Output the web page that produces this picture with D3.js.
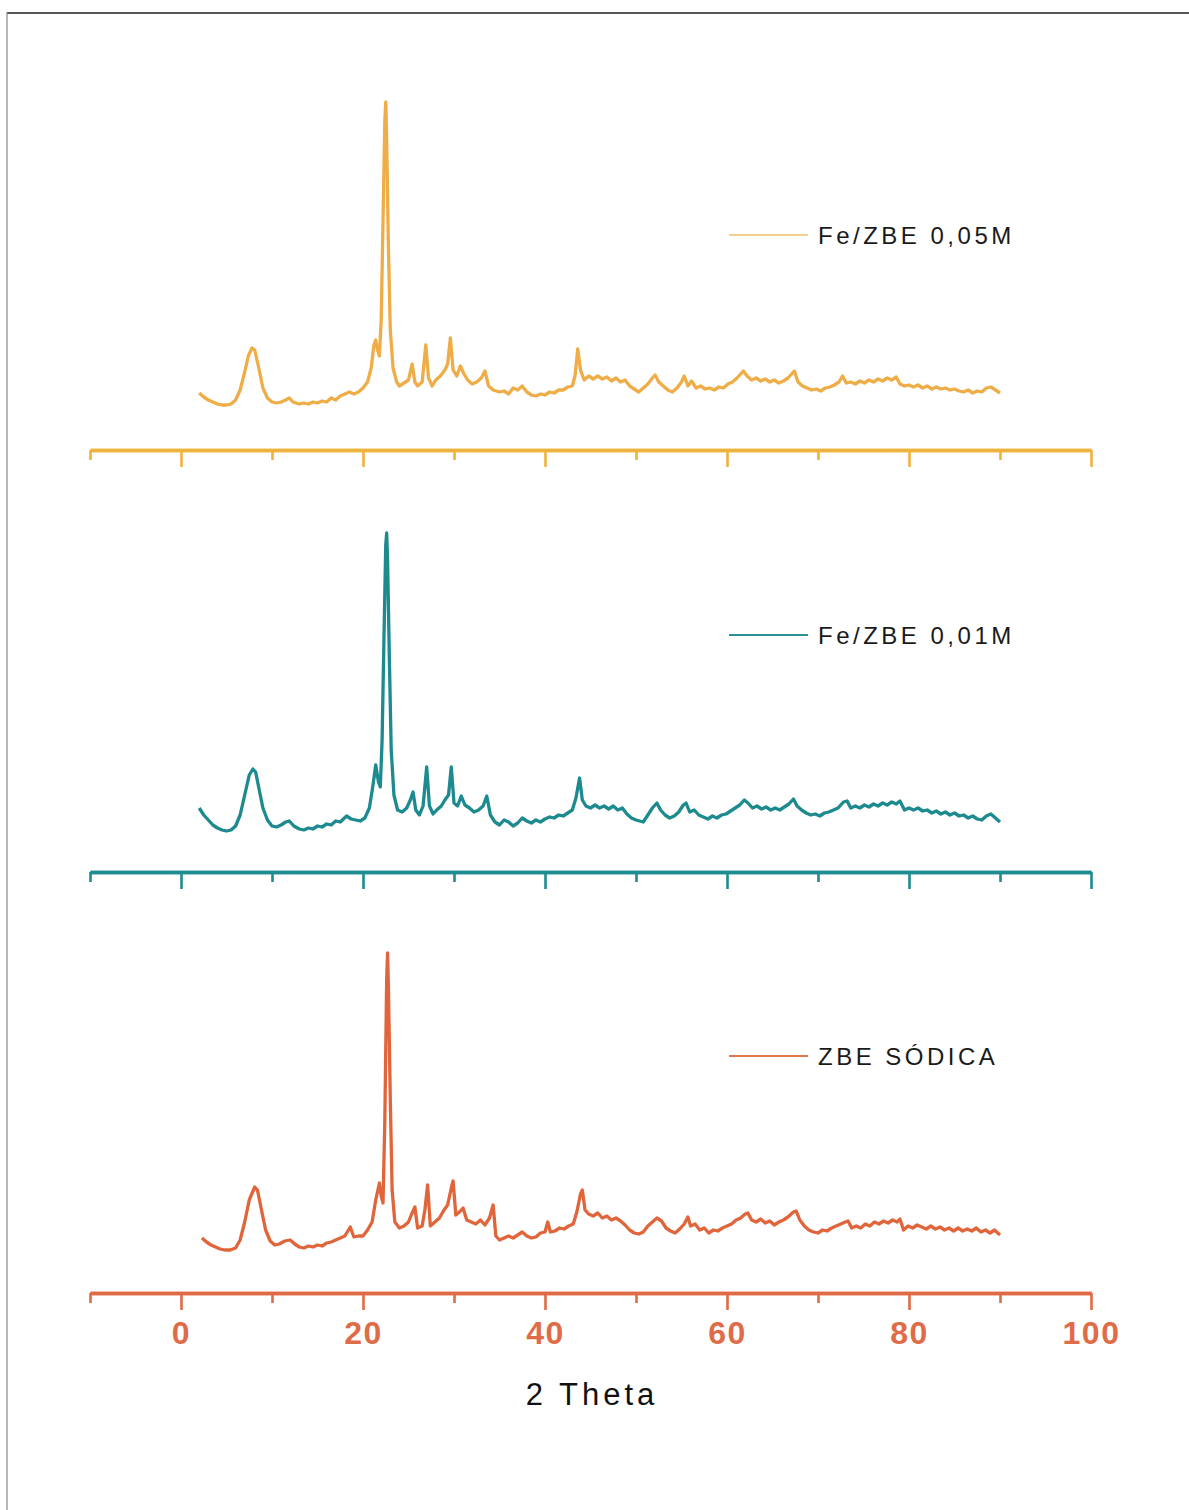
<!DOCTYPE html>
<html>
<head>
<meta charset="utf-8">
<script src="https://cdn.jsdelivr.net/npm/d3@7"></script>
<style>
  html, body { margin: 0; padding: 0; background: #ffffff; }
  svg { display: block; }
</style>
</head>
<body>
<svg id="chart" width="1189" height="1510"></svg>
<script>
// X-ray diffraction patterns, 2θ (degrees) vs intensity (a.u.)
const seriesNames = ["Fe/ZBE 0,05M", "Fe/ZBE 0,01M", "ZBE SÓDICA"];

const majorTicks = [0, 20, 40, 60, 80, 100];
const minorTicks = [-10, 10, 30, 50, 70, 90];

// Fe/ZBE 0,05M : [2θ, intensity]
const fe005 = [
  [2.0,17],[2.5,13],[3.0,10],[3.5,8],[4.0,6],[4.5,5],[5.0,5],[5.5,6],[6.0,10],[6.5,20],
  [7.0,38],[7.4,54],[7.8,62],[8.1,60],[8.5,44],[9.0,22],[9.5,12],[10.0,8],[10.5,7],[11.0,8],
  [11.5,10],[11.9,12],[12.3,8],[13.0,6],[13.5,7],[14.0,6],[14.5,8],[15.0,7],[15.5,9],[16.0,8],
  [16.5,12],[17.0,10],[17.5,14],[18.0,16],[18.5,18],[19.0,16],[19.5,18],[20.0,22],[20.5,28],[20.9,42],
  [21.2,65],[21.4,70],[21.6,60],[21.8,54],[22.0,90],[22.2,190],[22.4,290],[22.5,308],[22.6,270],[22.8,160],
  [23.0,80],[23.3,42],[23.7,28],[24.0,24],[24.5,27],[25.0,30],[25.4,46],[25.7,28],[26.0,24],[26.5,28],
  [26.9,65],[27.2,32],[27.6,24],[28.0,30],[28.5,34],[29.0,40],[29.3,46],[29.6,72],[29.9,40],[30.3,34],
  [30.7,44],[31.1,36],[31.5,30],[32.0,26],[32.5,28],[33.0,32],[33.4,39],[33.8,24],[34.3,20],[35.0,18],
  [35.5,19],[36.0,16],[36.5,22],[37.0,20],[37.5,24],[38.0,18],[38.5,15],[39.0,14],[39.5,16],[40.0,15],
  [40.5,18],[41.0,17],[41.5,20],[42.0,20],[42.5,23],[43.0,24],[43.3,34],[43.6,61],[43.9,40],[44.3,30],
  [44.8,34],[45.3,31],[45.8,34],[46.3,31],[46.8,33],[47.3,29],[47.8,32],[48.3,28],[48.8,30],[49.3,24],
  [49.8,21],[50.3,18],[50.8,22],[51.3,26],[51.8,32],[52.1,35],[52.5,28],[53.0,24],[53.5,20],[54.0,18],
  [54.5,22],[55.0,28],[55.3,34],[55.7,24],[56.1,29],[56.6,22],[57.1,24],[57.6,21],[58.1,22],[58.6,20],
  [59.1,23],[59.6,22],[60.1,26],[60.6,28],[61.1,32],[61.5,36],[61.8,39],[62.2,34],[62.7,30],[63.2,32],
  [63.7,29],[64.2,31],[64.7,28],[65.2,30],[65.7,27],[66.2,29],[66.7,32],[67.1,36],[67.4,39],[67.8,28],
  [68.3,24],[68.8,22],[69.3,20],[69.8,21],[70.3,19],[70.8,22],[71.3,23],[71.8,25],[72.3,28],[72.7,34],
  [73.1,27],[73.6,28],[74.1,26],[74.6,29],[75.1,27],[75.6,30],[76.1,28],[76.6,31],[77.1,29],[77.6,32],
  [78.1,30],[78.6,33],[79.0,26],[79.5,24],[80.0,25],[80.5,23],[81.0,25],[81.5,22],[82.0,24],[82.5,21],
  [83.0,23],[83.5,21],[84.0,22],[84.5,20],[85.0,21],[85.5,19],[86.0,18],[86.5,20],[87.0,17],[87.5,19],
  [88.0,18],[88.5,22],[89.0,23],[89.5,20],[90.0,17]
];

// Fe/ZBE 0,01M : [2θ, intensity]
const fe001 = [
  [2.0,24],[2.5,17],[3.0,12],[3.5,7],[4.0,4],[4.5,2],[5.0,1],[5.5,2],[6.0,6],[6.5,17],
  [7.0,37],[7.5,57],[7.9,63],[8.2,60],[8.6,42],[9.0,24],[9.5,12],[10.0,6],[10.5,5],[11.0,7],
  [11.5,10],[11.9,11],[12.4,6],[13.0,3],[13.5,2],[14.0,4],[14.5,3],[15.0,6],[15.5,5],[16.0,8],
  [16.5,7],[17.0,11],[17.5,10],[18.2,16],[18.7,13],[19.2,12],[19.7,11],[20.2,14],[20.7,24],[21.1,47],
  [21.4,67],[21.7,50],[21.9,45],[22.1,92],[22.3,192],[22.5,287],[22.6,299],[22.7,272],[22.9,172],[23.1,82],
  [23.4,37],[23.8,22],[24.3,20],[24.8,24],[25.2,32],[25.5,40],[25.8,22],[26.2,17],[26.6,26],[27.0,65],
  [27.3,26],[27.7,18],[28.1,22],[28.6,26],[29.0,32],[29.4,37],[29.7,65],[30.0,29],[30.4,26],[30.8,36],
  [31.2,27],[31.7,24],[32.2,20],[32.7,22],[33.2,26],[33.6,36],[34.0,17],[34.5,10],[35.0,7],[35.5,12],
  [36.0,10],[36.5,6],[37.0,9],[37.5,14],[38.0,11],[38.5,9],[39.0,12],[39.5,10],[40.0,13],[40.5,15],
  [41.0,14],[41.5,17],[42.0,16],[42.5,19],[43.0,22],[43.4,34],[43.8,54],[44.1,32],[44.5,26],[45.0,24],
  [45.5,27],[46.0,24],[46.5,26],[47.0,23],[47.5,26],[48.0,22],[48.5,24],[49.0,18],[49.5,14],[50.0,12],
  [50.8,10],[51.3,17],[51.8,24],[52.3,29],[52.7,22],[53.2,17],[53.7,14],[54.2,16],[54.7,20],[55.2,27],
  [55.5,29],[55.9,20],[56.4,22],[56.9,17],[57.4,15],[57.9,13],[58.4,16],[58.9,14],[59.4,17],[59.9,18],
  [60.4,21],[60.9,24],[61.4,27],[61.9,32],[62.3,29],[62.8,24],[63.3,26],[63.8,23],[64.3,25],[64.8,22],
  [65.3,24],[65.8,22],[66.3,25],[66.8,28],[67.3,33],[67.7,26],[68.2,22],[68.7,19],[69.2,17],[69.7,18],
  [70.2,16],[70.7,19],[71.2,20],[71.7,22],[72.2,24],[72.8,30],[73.2,31],[73.6,24],[74.1,26],[74.6,24],
  [75.1,27],[75.6,25],[76.1,28],[76.6,26],[77.1,29],[77.6,27],[78.1,30],[78.6,28],[79.0,31],[79.5,22],
  [80.0,24],[80.5,22],[81.0,24],[81.5,21],[82.0,22],[82.5,19],[83.0,21],[83.5,18],[84.0,20],[84.5,17],
  [85.0,19],[85.5,16],[86.0,17],[86.5,14],[87.0,16],[87.5,13],[88.0,12],[88.5,16],[89.0,18],[89.5,14],
  [90.0,10]
];

// ZBE SÓDICA : [2θ, intensity]
const zbeNa = [
  [2.3,15],[2.8,11],[3.3,8],[3.8,6],[4.3,4],[4.8,3],[5.4,3],[6.0,5],[6.5,13],[7.0,31],
  [7.5,53],[8.1,66],[8.4,63],[8.8,45],[9.3,23],[9.8,12],[10.3,8],[10.8,9],[11.4,12],[12.0,13],
  [12.5,9],[13.0,6],[13.5,5],[14.0,7],[14.5,6],[15.0,8],[15.5,7],[16.0,10],[16.5,11],[17.0,13],
  [17.5,15],[18.0,17],[18.6,26],[19.0,16],[19.5,17],[20.0,17],[20.5,23],[21.0,31],[21.4,53],[21.8,70],
  [22.0,57],[22.2,50],[22.4,133],[22.6,273],[22.7,300],[22.8,263],[23.0,153],[23.2,63],[23.5,31],[24.0,25],
  [24.5,27],[25.0,31],[25.3,38],[25.7,46],[26.0,25],[26.5,27],[26.8,43],[27.1,68],[27.4,27],[27.9,31],
  [28.4,35],[28.9,43],[29.3,48],[29.7,65],[29.9,72],[30.2,38],[30.6,41],[31.0,45],[31.4,33],[31.9,31],
  [32.4,29],[32.9,33],[33.4,28],[33.9,35],[34.3,48],[34.6,17],[35.0,13],[35.5,15],[36.0,17],[36.5,15],
  [37.0,18],[37.5,21],[38.0,17],[38.5,15],[39.0,16],[39.5,20],[40.0,21],[40.3,31],[40.6,21],[41.1,22],
  [41.6,25],[42.1,24],[42.6,27],[43.1,29],[43.5,41],[43.9,59],[44.1,63],[44.4,43],[44.8,39],[45.3,37],
  [45.8,40],[46.3,35],[46.8,37],[47.3,33],[47.8,35],[48.3,32],[48.8,28],[49.3,23],[49.8,20],[50.3,19],
  [50.8,21],[51.3,27],[51.8,31],[52.3,35],[52.8,32],[53.3,25],[53.8,22],[54.3,20],[54.8,24],[55.3,29],
  [55.7,36],[56.0,27],[56.5,29],[57.0,23],[57.5,25],[58.0,20],[58.5,23],[59.0,22],[59.5,25],[60.0,27],
  [60.5,29],[61.0,33],[61.5,35],[62.0,39],[62.3,40],[62.7,33],[63.2,31],[63.7,34],[64.2,30],[64.7,32],
  [65.2,28],[65.7,31],[66.2,33],[66.7,36],[67.3,41],[67.6,42],[68.0,33],[68.5,27],[69.0,23],[69.5,21],
  [70.0,20],[70.5,23],[71.0,22],[71.5,25],[72.0,27],[72.5,29],[73.0,31],[73.3,32],[73.7,25],[74.2,27],
  [74.7,25],[75.2,29],[75.7,27],[76.2,31],[76.7,29],[77.2,32],[77.7,30],[78.2,33],[78.7,31],[79.0,34],
  [79.4,23],[79.9,27],[80.4,25],[80.9,28],[81.4,26],[81.9,24],[82.4,27],[82.9,24],[83.4,26],[83.9,23],
  [84.4,25],[84.9,22],[85.4,25],[85.9,22],[86.4,24],[86.9,22],[87.4,25],[87.9,21],[88.4,23],[88.9,20],
  [89.4,23],[90.0,18]
];

const seriesData = [fe005, fe001, zbeNa];
const lineColors = ["#efad47", "#1c8a8f", "#e0653b"];
const axisColors = ["#f0b23e", "#1e8c90", "#df6a44"];
const legendLineColors = ["#f1cf8e", "#2a9196", "#e5774f"];

const svg = d3.select("#chart");

// page frame
svg.append("line").attr("x1", 7).attr("y1", 13).attr("x2", 1189).attr("y2", 13)
  .attr("stroke", "#555").attr("stroke-width", 2.2);
svg.append("line").attr("x1", 7).attr("y1", 12).attr("x2", 7).attr("y2", 1510)
  .attr("stroke", "#888").attr("stroke-width", 1.2);

const x = d3.scaleLinear().domain([-10, 100]).range([90, 1091]);

// one stacked panel per sample, each with its own baseline axis
const panelAxisY = [450, 872, 1293];
const legendY = [235, 635, 1056];

seriesData.forEach((data, i) => {
  const axisY = panelAxisY[i];
  const y = d3.scaleLinear().domain([0, 400]).range([axisY - 40, axisY - 440]);
  const g = svg.append("g");

  const line = d3.line().x(d => x(d[0])).y(d => y(d[1])).curve(d3.curveLinear);
  g.append("path").datum(data)
    .attr("d", line)
    .attr("fill", "none")
    .attr("stroke", lineColors[i])
    .attr("stroke-width", 3.3)
    .attr("stroke-linejoin", "round");

  const last = i === seriesData.length - 1;

  const majorAxis = d3.axisBottom(x).tickValues(majorTicks).tickSize(17).tickSizeOuter(0)
    .tickFormat(last ? d3.format("d") : () => "");
  const minorAxis = d3.axisBottom(x).tickValues(minorTicks).tickSize(10).tickSizeOuter(0)
    .tickFormat(() => "");

  const gMinor = g.append("g").attr("transform", `translate(0,${axisY})`).call(minorAxis);
  const gMajor = g.append("g").attr("transform", `translate(0,${axisY})`).call(majorAxis);

  [gMinor, gMajor].forEach(ax => {
    ax.select(".domain").attr("stroke", axisColors[i]).attr("stroke-width", 3.5);
    ax.selectAll(".tick line").attr("stroke", axisColors[i]).attr("stroke-width", 2.6);
  });
  gMajor.selectAll(".tick text")
    .attr("fill", "#df6c48")
    .attr("font-family", "'Liberation Sans', Arial, sans-serif")
    .attr("font-weight", "bold")
    .attr("font-size", 32)
    .attr("letter-spacing", 1.5)
    .attr("y", 28)
    .attr("dy", "0.71em");

  // legend entry
  g.append("line")
    .attr("x1", 729).attr("x2", 808)
    .attr("y1", legendY[i]).attr("y2", legendY[i])
    .attr("stroke", legendLineColors[i]).attr("stroke-width", 1.8);
  g.append("text")
    .attr("x", 818).attr("y", legendY[i] + 9)
    .attr("font-family", "'Liberation Sans', Arial, sans-serif")
    .attr("font-size", 24)
    .attr("letter-spacing", 3.5)
    .attr("fill", "#1a1a1a")
    .text(seriesNames[i]);
});

// x-axis title
svg.append("text")
  .attr("x", 592).attr("y", 1405)
  .attr("text-anchor", "middle")
  .attr("font-family", "'Liberation Sans', Arial, sans-serif")
  .attr("font-size", 31)
  .attr("letter-spacing", 4)
  .attr("fill", "#111")
  .text("2 Theta");
</script>
</body>
</html>
